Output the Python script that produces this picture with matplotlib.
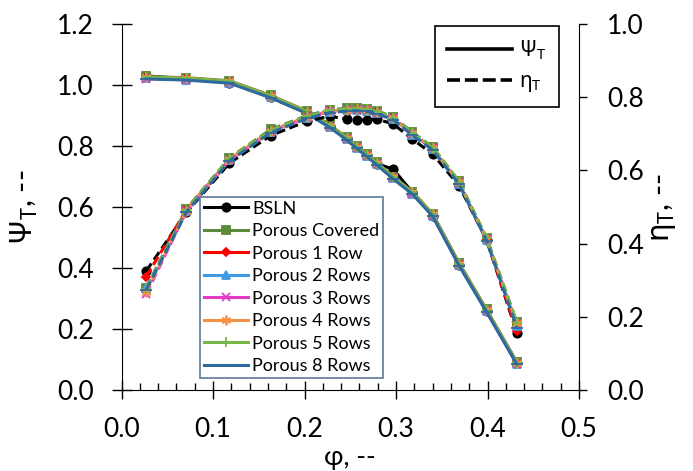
import matplotlib
matplotlib.use("Agg")
import matplotlib.pyplot as plt
from matplotlib.lines import Line2D
from matplotlib.ticker import MultipleLocator, FormatStrFormatter

plt.rcParams["font.family"] = ["Lato", "DejaVu Sans"]
plt.rcParams["mathtext.fontset"] = "custom"
plt.rcParams["mathtext.rm"] = "Noto Sans"
plt.rcParams["mathtext.it"] = "Noto Sans:italic"

# flow coefficient (shared by every series)
phi = [0.027, 0.071, 0.118, 0.163, 0.203, 0.228, 0.246, 0.257,
       0.268, 0.279, 0.297, 0.318, 0.340, 0.369, 0.399, 0.432]

series = ["BSLN", "Porous Covered", "Porous 1 Row", "Porous 2 Rows",
          "Porous 3 Rows", "Porous 4 Rows", "Porous 5 Rows", "Porous 8 Rows"]

# total pressure coefficient, left axis
psi_bsln = [1.030, 1.020, 1.008, 0.960, 0.908, 0.866, 0.826, 0.798, 0.772, 0.742, 0.724, 0.648, 0.572, 0.410, 0.258, 0.088]
psi_cov = [1.028, 1.024, 1.014, 0.966, 0.914, 0.868, 0.828, 0.800, 0.774, 0.746, 0.700, 0.650, 0.578, 0.416, 0.264, 0.092]
psi_r1 = [1.026, 1.022, 1.012, 0.964, 0.912, 0.866, 0.826, 0.798, 0.772, 0.744, 0.698, 0.648, 0.576, 0.414, 0.262, 0.090]
psi_r2 = [1.022, 1.018, 1.008, 0.960, 0.908, 0.862, 0.822, 0.794, 0.768, 0.740, 0.694, 0.644, 0.572, 0.410, 0.258, 0.086]
psi_r3 = [1.020, 1.018, 1.008, 0.960, 0.908, 0.862, 0.822, 0.794, 0.768, 0.740, 0.694, 0.644, 0.572, 0.410, 0.258, 0.086]
psi_r4 = [1.026, 1.022, 1.012, 0.964, 0.912, 0.866, 0.826, 0.798, 0.772, 0.744, 0.698, 0.648, 0.576, 0.414, 0.262, 0.090]
psi_r5 = [1.026, 1.022, 1.012, 0.964, 0.912, 0.866, 0.826, 0.798, 0.772, 0.744, 0.698, 0.648, 0.576, 0.414, 0.262, 0.090]
psi_r8 = [1.020, 1.016, 1.006, 0.958, 0.906, 0.860, 0.820, 0.792, 0.766, 0.738, 0.692, 0.642, 0.570, 0.408, 0.256, 0.085]

# total efficiency, right axis
eta_bsln = [0.325, 0.485, 0.620, 0.695, 0.735, 0.748, 0.740, 0.737, 0.738, 0.740, 0.727, 0.685, 0.645, 0.558, 0.410, 0.157]
eta_cov = [0.280, 0.495, 0.634, 0.712, 0.750, 0.766, 0.770, 0.771, 0.769, 0.763, 0.746, 0.704, 0.664, 0.570, 0.416, 0.186]
eta_r1 = [0.310, 0.492, 0.630, 0.708, 0.746, 0.762, 0.766, 0.767, 0.765, 0.759, 0.742, 0.700, 0.660, 0.566, 0.412, 0.160]
eta_r2 = [0.278, 0.490, 0.628, 0.705, 0.744, 0.760, 0.764, 0.765, 0.763, 0.757, 0.740, 0.698, 0.658, 0.564, 0.410, 0.176]
eta_r3 = [0.262, 0.488, 0.628, 0.706, 0.745, 0.761, 0.765, 0.766, 0.764, 0.758, 0.742, 0.700, 0.660, 0.566, 0.412, 0.180]
eta_r4 = [0.268, 0.490, 0.630, 0.708, 0.746, 0.762, 0.766, 0.767, 0.765, 0.759, 0.743, 0.701, 0.661, 0.567, 0.413, 0.182]
eta_r5 = [0.276, 0.492, 0.632, 0.709, 0.748, 0.764, 0.768, 0.769, 0.767, 0.761, 0.744, 0.702, 0.662, 0.568, 0.414, 0.184]
eta_r8 = [0.274, 0.486, 0.626, 0.703, 0.742, 0.758, 0.762, 0.763, 0.761, 0.755, 0.738, 0.696, 0.656, 0.562, 0.408, 0.170]

psi_all = [psi_bsln, psi_cov, psi_r1, psi_r2, psi_r3, psi_r4, psi_r5, psi_r8]
eta_all = [eta_bsln, eta_cov, eta_r1, eta_r2, eta_r3, eta_r4, eta_r5, eta_r8]

colors = ["black", "#5A8A3A", "#FF0000", "#3E9BE6",
          "#E33CC4", "#F4924A", "#78B84A", "#2E6A9E"]
markers = ["o", "s", "D", "^", "x", (6, 2, 0), "+", "_"]
msizes = [6, 5.5, 4.5, 5.5, 6, 7, 7, 8]

fig = plt.figure(figsize=(6.93, 4.71), dpi=100)
ax = fig.add_axes([121.5 / 693, 81 / 471, 457.5 / 693, 366 / 471])
ax2 = ax.twinx()

handles = []
for name, psi, eta, c, m, ms in zip(series, psi_all, eta_all, colors, markers, msizes):
    h, = ax.plot(phi, psi, color=c, lw=2.2, marker=m, ms=ms, mec=c, mew=1.3, label=name)
    ax2.plot(phi, eta, color=c, lw=2.2, ls=(0, (3, 1.5)), marker=m, ms=ms, mec=c, mew=1.3)
    handles.append(h)

ax.set_xlim(0, 0.5)
ax.set_ylim(0, 1.2)
ax2.set_ylim(0, 1.0)

ax.xaxis.set_major_locator(MultipleLocator(0.1))
ax.xaxis.set_minor_locator(MultipleLocator(0.02))
ax.yaxis.set_major_locator(MultipleLocator(0.2))
ax2.yaxis.set_major_locator(MultipleLocator(0.2))
ax.xaxis.set_major_formatter(FormatStrFormatter("%.1f"))
ax.yaxis.set_major_formatter(FormatStrFormatter("%.1f"))
ax2.yaxis.set_major_formatter(FormatStrFormatter("%.1f"))

ax.tick_params(axis="x", which="major", direction="inout", length=13, width=1, pad=13, labelsize=19)
ax.tick_params(axis="x", which="minor", direction="in", length=4.8, width=1)
ax.tick_params(axis="y", which="major", direction="inout", length=13.7, width=1, pad=13, labelsize=19)
ax2.tick_params(axis="y", which="major", direction="out", length=6, width=1, pad=14, labelsize=19)

for a in (ax, ax2):
    a.spines["top"].set_visible(False)
ax.spines["right"].set_visible(False)
ax2.spines["left"].set_visible(False)
ax2.spines["bottom"].set_visible(False)

ax.set_xlabel("φ, --", fontsize=19)
ax.xaxis.set_label_coords(0.5, -0.15)
ax.set_ylabel(r"$\Psi_\mathrm{T}$, --", fontsize=22)
ax.yaxis.set_label_coords(-0.178, 0.5)
ax2.set_ylabel(r"$\mathrm{\eta_T}$, --", fontsize=22)
ax2.yaxis.set_label_coords(1.155, 0.5)

leg1 = ax2.legend(handles=handles, loc="upper left",
                  bbox_to_anchor=(200 / 693, 1 - 197 / 471), bbox_transform=fig.transFigure,
                  borderaxespad=0, fontsize=13, handlelength=2.45, handletextpad=0.25,
                  labelspacing=0.36, borderpad=0.2, numpoints=1, fancybox=False,
                  framealpha=1, edgecolor="#5F7896")
leg1.get_frame().set_linewidth(1.2)
ax2.add_artist(leg1)

style_handles = [Line2D([], [], color="black", lw=2.6),
                 Line2D([], [], color="black", lw=2.6, ls=(0, (3.6, 1.35)))]
leg2 = ax2.legend(style_handles, [r"$\Psi_\mathrm{T}$", r"$\mathrm{\eta_T}$"], loc="upper left",
                  bbox_to_anchor=(435 / 693, 1 - 26 / 471), bbox_transform=fig.transFigure,
                  borderaxespad=0, fontsize=15, handlelength=3.1, handletextpad=0.35,
                  labelspacing=0.45, borderpad=0.6, fancybox=False, framealpha=1,
                  edgecolor="black")
leg2.get_frame().set_linewidth(1.2)

fig.savefig("out.png", dpi=100)
